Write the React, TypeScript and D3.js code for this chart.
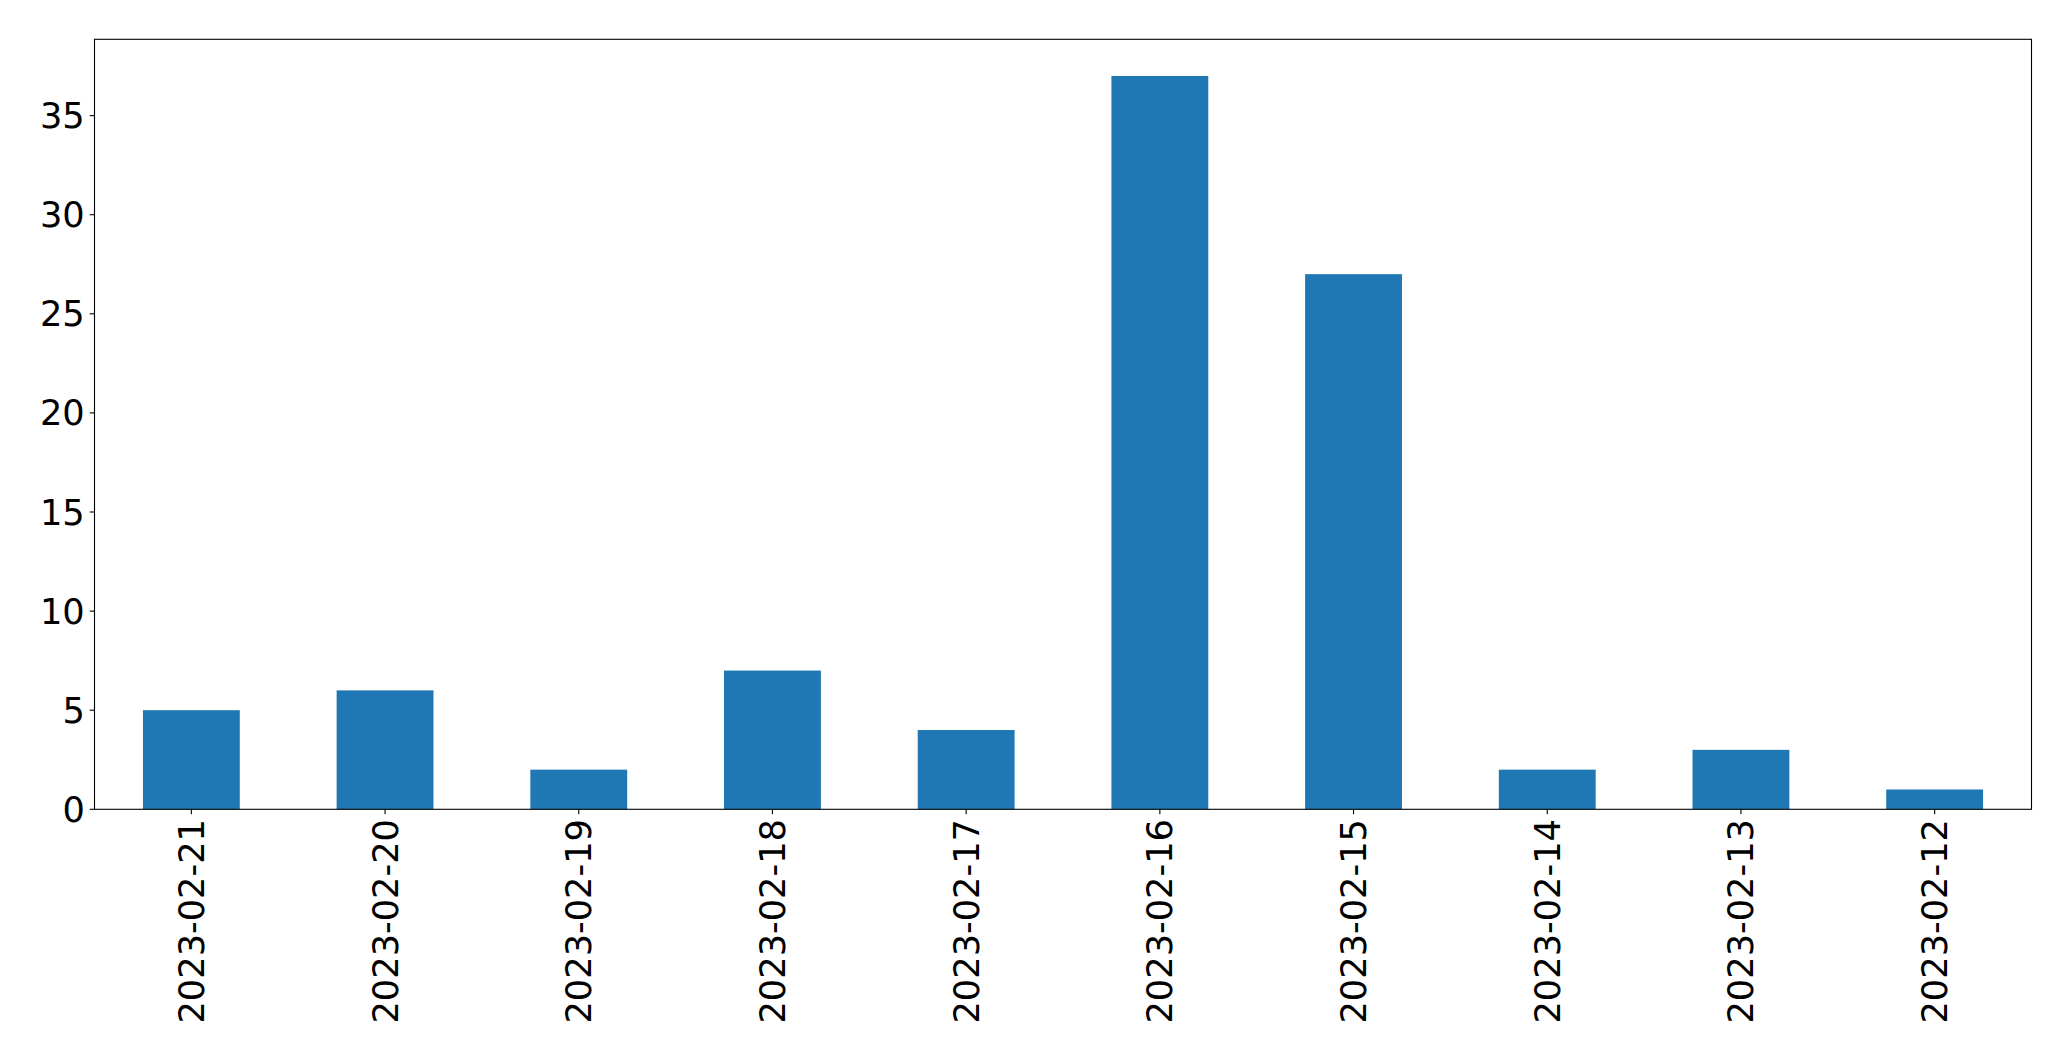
import React from "react";
import * as d3 from "d3";

const categories = ["2023-02-21","2023-02-20","2023-02-19","2023-02-18","2023-02-17","2023-02-16","2023-02-15","2023-02-14","2023-02-13","2023-02-12"];
const values = [5, 6, 2, 7, 4, 37, 27, 2, 3, 1];
const yTicks = [0, 5, 10, 15, 20, 25, 30, 35];

const W = 2071, H = 1061;
const left = 94.5, right = 2031.5, top = 39.3, bottom = 809.3;
const FS = 35.2;
const TICK = 4.86;
const PAD = 4.86;

export default function App() {
  const x = d3.scaleBand<string>().domain(categories).range([left, right]).paddingInner(0.5).paddingOuter(0.25);
  const y = d3.scaleLinear().domain([0, d3.max(values)! * 1.05]).range([bottom, top]);
  return (
    <svg width={W} height={H} style={{ position: "absolute", left: 0, top: 0, background: "white" }}
      fontFamily="DejaVu Sans" fontSize={FS}>
      <rect x={0} y={0} width={W} height={H} fill="white" />
      {categories.map((c, i) => (
        <rect key={c} x={x(c)} y={y(values[i])} width={x.bandwidth()} height={y(0) - y(values[i])} fill="#1f77b4" />
      ))}
      {yTicks.map((t) => (
        <g key={t}>
          <line x1={left - TICK} x2={left} y1={y(t)} y2={y(t)} stroke="black" strokeWidth={1.1} />
          <text x={left - TICK - PAD} y={y(t)} textAnchor="end" dominantBaseline="central" fill="black">{t}</text>
        </g>
      ))}
      {categories.map((c) => {
        const cx = x(c)! + x.bandwidth() / 2;
        const ty = bottom + TICK + PAD;
        return (
          <g key={c}>
            <line x1={cx} x2={cx} y1={bottom} y2={bottom + TICK} stroke="black" strokeWidth={1.1} />
            <text transform={`translate(${cx},${ty}) rotate(-90)`} textAnchor="end" dominantBaseline="central" fill="black">{c}</text>
          </g>
        );
      })}
      <rect x={left} y={top} width={right - left} height={bottom - top} fill="none" stroke="black" strokeWidth={1.1} />
    </svg>
  );
}
